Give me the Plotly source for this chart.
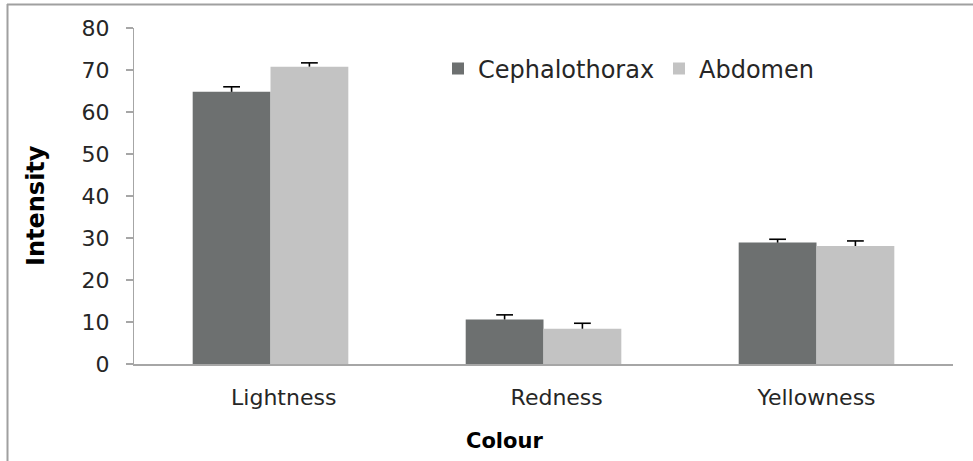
import plotly.graph_objects as go

categories = ["Lightness", "Redness", "Yellowness"]
cephalothorax = [64.8, 10.6, 28.9]
cephalothorax_err = [1.2, 1.1, 0.8]
abdomen = [70.8, 8.4, 28.1]
abdomen_err = [0.9, 1.3, 1.2]
y_ticks = [0, 10, 20, 30, 40, 50, 60, 70, 80]

FONT = "DejaVu Sans"
TXT = "#262626"
GAP = 0.43

series = [
    ("Cephalothorax", cephalothorax, cephalothorax_err, "#6d7070"),
    ("Abdomen", abdomen, abdomen_err, "#c3c3c3"),
]

fig = go.Figure()
for name, vals, errs, col in series:
    fig.add_trace(go.Bar(
        name=name, x=categories, y=vals, offsetgroup=name,
        marker=dict(color=col, line=dict(width=0)),
    ))
for name, vals, errs, col in series:
    tops = [v + e for v, e in zip(vals, errs)]
    fig.add_trace(go.Scatter(
        x=categories, y=tops, mode="markers", offsetgroup=name, showlegend=False,
        hoverinfo="skip",
        marker=dict(symbol="line-ew-open", size=12, color="black",
                    line=dict(color="black", width=1.6)),
        error_y=dict(type="data", symmetric=False, array=[0] * len(errs),
                     arrayminus=errs, visible=True, color="black", thickness=1.6, width=0),
    ))

W, H = 973, 461
L, R, T, B = 134, 20, 28, 97
pw, ph = W - L - R, H - T - B

def px(xp):
    return (xp - L) / pw

def py(yp):
    return (H - B - yp) / ph

# the first two category labels sit slightly right of centre in the original
pad = ["\u2002\u2002\u2009", "\u2002\u2002\u2009", ""]
tick_text = [p + c for p, c in zip(pad, categories)]

fig.update_layout(
    width=W, height=H,
    margin=dict(l=L, r=R, t=T, b=B),
    paper_bgcolor="white", plot_bgcolor="white",
    barmode="group", bargap=GAP, bargroupgap=0,
    scattermode="group", scattergap=GAP,
    font=dict(family=FONT, size=22, color=TXT),
    showlegend=True,
    legend=dict(orientation="h", x=px(438), y=py(69), xanchor="left", yanchor="middle",
                entrywidth=176, entrywidthmode="pixels",
                font=dict(family=FONT, size=24, color=TXT),
                bgcolor="rgba(0,0,0,0)", borderwidth=0, itemclick=False),
    xaxis=dict(showline=True, linecolor="#a6a6a6", linewidth=1.5, ticks="",
               tickvals=categories, ticktext=tick_text,
               showgrid=False, tickfont=dict(size=22, color=TXT), ticklabelstandoff=13),
    yaxis=dict(range=[0, 80], tickvals=y_ticks, showline=True, linecolor="#a6a6a6",
               linewidth=1.2, ticks="outside", ticklen=7, tickcolor="#a6a6a6",
               tickwidth=1.2, showgrid=False, zeroline=False,
               tickfont=dict(size=22, color=TXT), ticklabelstandoff=12),
    annotations=[
        dict(text="<b>Intensity</b>", x=px(36), y=py(206), xref="paper", yref="paper",
             textangle=-90, showarrow=False, font=dict(family=FONT, size=24, color="black"),
             xanchor="center", yanchor="middle"),
        dict(text="<b>Colour</b>", x=px(504), y=py(441), xref="paper", yref="paper",
             showarrow=False, font=dict(family=FONT, size=21, color="black"),
             xanchor="center", yanchor="middle"),
    ],
    shapes=[
        dict(type="line", xref="paper", yref="paper", x0=px(7), x1=px(980), y0=py(4.5), y1=py(4.5),
             line=dict(color="#a0a0a0", width=2)),
        dict(type="line", xref="paper", yref="paper", x0=px(7.5), x1=px(7.5), y0=py(4), y1=py(470),
             line=dict(color="#a0a0a0", width=2)),
    ],
)

fig.write_html("out.html", config={"displayModeBar": False, "staticPlot": True},
               post_script="document.body.style.margin='0';")
